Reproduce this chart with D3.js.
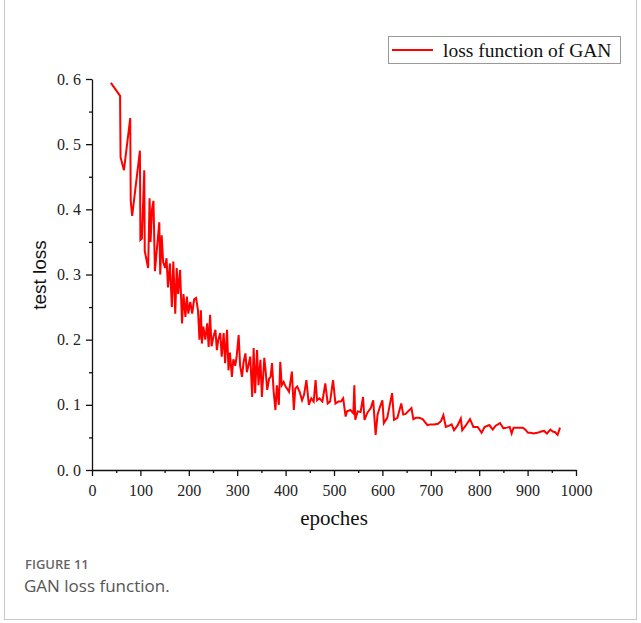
<!DOCTYPE html>
<html>
<head>
<meta charset="utf-8">
<script src="https://cdn.jsdelivr.net/npm/d3@7"></script>
<style>
  body { margin: 0; background: #fff; }
  svg { display: block; }
</style>
</head>
<body>
<svg id="chart"></svg>
<script>
// data
var epochs = [39, 58, 59, 66, 79, 80, 83, 99, 100, 103, 108, 109, 116, 119, 121, 124, 127, 130, 139, 141,
    144, 147, 151, 154, 157, 161, 165, 168, 172, 175, 178, 182, 186, 189, 193, 196, 199, 203, 207, 211,
    215, 219, 222, 225, 227, 230, 234, 238, 241, 244, 247, 251, 255, 258, 261, 265, 268, 272, 275, 279,
    282, 285, 289, 292, 296, 299, 303, 306, 310, 313, 317, 320, 323, 327, 331, 334, 337, 341, 344, 348,
    351, 356, 359, 362, 366, 369, 372, 375, 379, 382, 386, 389, 392, 396, 400, 403, 407, 413, 417, 420,
    424, 429, 434, 438, 443, 448, 453, 458, 462, 465, 470, 476, 482, 487, 492, 498, 503, 509, 514, 519,
    524, 527, 534, 540, 542, 544, 549, 555, 560, 563, 569, 576, 581, 586, 590, 595, 600, 603, 610, 620,
    624, 631, 639, 643, 648, 653, 660, 664, 669, 676, 683, 693, 700, 707, 715, 721, 726, 731, 738, 743,
    748, 755, 762, 765, 772, 781, 788, 797, 805, 811, 821, 828, 834, 843, 850, 857, 863, 867, 871, 882,
    890, 895, 901, 906, 912, 920, 928, 934, 940, 947, 952, 957, 962, 967];

var testLoss = [0.594, 0.574, 0.48, 0.46, 0.54, 0.413, 0.39, 0.49, 0.353, 0.355, 0.46, 0.336, 0.31, 0.417, 0.35, 0.40, 0.413, 0.305, 0.38, 0.30,
    0.36, 0.319, 0.31, 0.325, 0.28, 0.317, 0.25, 0.32, 0.24, 0.31, 0.27, 0.307, 0.225, 0.27, 0.235, 0.266, 0.24, 0.258, 0.24, 0.262,
    0.264, 0.245, 0.20, 0.245, 0.194, 0.22, 0.20, 0.225, 0.189, 0.238, 0.19, 0.205, 0.215, 0.184, 0.20, 0.21, 0.174, 0.21, 0.164, 0.215,
    0.153, 0.18, 0.143, 0.17, 0.16, 0.175, 0.207, 0.16, 0.143, 0.165, 0.179, 0.15, 0.16, 0.174, 0.112, 0.187, 0.118, 0.184, 0.13, 0.169,
    0.112, 0.172, 0.15, 0.123, 0.14, 0.143, 0.164, 0.123, 0.092, 0.13, 0.10, 0.166, 0.13, 0.135, 0.128, 0.125, 0.12, 0.151, 0.092, 0.125,
    0.128, 0.12, 0.107, 0.115, 0.138, 0.10, 0.11, 0.105, 0.138, 0.107, 0.11, 0.105, 0.133, 0.102, 0.105, 0.138, 0.102, 0.105, 0.105, 0.11,
    0.082, 0.09, 0.092, 0.087, 0.13, 0.077, 0.09, 0.089, 0.112, 0.077, 0.088, 0.095, 0.107, 0.054, 0.085, 0.097, 0.107, 0.072, 0.08, 0.118,
    0.077, 0.08, 0.102, 0.085, 0.086, 0.09, 0.095, 0.078, 0.08, 0.08, 0.078, 0.069, 0.07, 0.07, 0.071, 0.075, 0.084, 0.066, 0.068, 0.07,
    0.061, 0.068, 0.079, 0.061, 0.068, 0.078, 0.066, 0.066, 0.057, 0.066, 0.069, 0.062, 0.068, 0.072, 0.064, 0.065, 0.066, 0.056, 0.065, 0.065,
    0.065, 0.062, 0.057, 0.057, 0.056, 0.057, 0.059, 0.06, 0.056, 0.062, 0.059, 0.058, 0.054, 0.065];

var xTicks = [0, 100, 200, 300, 400, 500, 600, 700, 800, 900, 1000];
var yTicks = [0, 0.1, 0.2, 0.3, 0.4, 0.5, 0.6];
var legendLabel = "loss function of GAN";

var W = 641, H = 623;
var margin = { top: 79, right: 65, bottom: 153, left: 92 },
    width = 576 - margin.left,
    height = 470 - margin.top;

var svg = d3.select("#chart")
    .attr("width", W)
    .attr("height", H);

// card border
svg.append("rect")
    .attr("x", 4.5).attr("y", -2)
    .attr("width", 632).attr("height", 621.5)
    .attr("fill", "none")
    .attr("stroke", "#c8c8c8")
    .attr("stroke-width", 1);

var g = svg.append("g")
    .attr("transform", "translate(" + margin.left + "," + margin.top + ")");

var x = d3.scaleLinear().domain([0, 1000]).range([0, width]);
var y = d3.scaleLinear().domain([0, 0.6]).range([height, 0]);

var serif = "'Liberation Serif', 'Times New Roman', serif";

// minor ticks
g.append("g")
    .attr("transform", "translate(0," + height + ")")
    .call(d3.axisBottom(x).tickValues(d3.range(50, 1000, 100)).tickSize(3).tickFormat(""))
    .call(s => s.select(".domain").remove());
g.append("g")
    .call(d3.axisLeft(y).tickValues(d3.range(0.05, 0.6, 0.1)).tickSize(3).tickFormat(""))
    .call(s => s.select(".domain").remove());

// main axes
var xAxis = g.append("g")
    .attr("transform", "translate(0," + height + ")")
    .call(d3.axisBottom(x).tickValues(xTicks).tickSize(6).tickSizeOuter(0).tickPadding(9).tickFormat(d3.format("d")));

var yAxis = g.append("g")
    .call(d3.axisLeft(y).tickValues(yTicks).tickSize(6).tickSizeOuter(0).tickPadding(5)
        .tickFormat(d => d3.format(".1f")(d).replace(".", ". ")));

[xAxis, yAxis].forEach(a => {
    a.selectAll("path, line").attr("stroke", "#111").attr("stroke-width", 1.3);
    a.selectAll("text").attr("fill", "#222").style("font-family", serif).style("font-size", "16px");
});
g.selectAll(".tick line").attr("stroke", "#111").attr("stroke-width", 1.3);

// line
var line = d3.line()
    .x((d, i) => x(epochs[i]))
    .y(d => y(d));

g.append("path")
    .datum(testLoss)
    .attr("fill", "none")
    .attr("stroke", "#ff0000")
    .attr("stroke-width", 2)
    .attr("stroke-linejoin", "miter")
    .attr("d", line);

// axis titles
svg.append("text")
    .text("epoches")
    .attr("x", 334)
    .attr("y", 525)
    .attr("text-anchor", "middle")
    .style("font-family", serif)
    .style("font-size", "21px")
    .attr("fill", "#111");

svg.append("text")
    .text("test loss")
    .attr("transform", "translate(46,275) rotate(-90)")
    .attr("text-anchor", "middle")
    .style("font-family", "'Liberation Sans Narrow', 'Liberation Sans', sans-serif")
    .style("font-size", "19px")
    .attr("fill", "#111");

// legend
var legend = svg.append("g");
legend.append("rect")
    .attr("x", 388.5).attr("y", 36.5)
    .attr("width", 232).attr("height", 27)
    .attr("fill", "#fff")
    .attr("stroke", "#999");
legend.append("line")
    .attr("x1", 392).attr("x2", 433)
    .attr("y1", 50).attr("y2", 50)
    .attr("stroke", "#ff0000")
    .attr("stroke-width", 2);
legend.append("text")
    .text(legendLabel)
    .attr("x", 443).attr("y", 57)
    .style("font-family", serif)
    .style("font-size", "19.5px")
    .attr("fill", "#111");

// caption
svg.append("text")
    .text("FIGURE 11")
    .attr("x", 25).attr("y", 569)
    .style("font-family", "'Open Sans', sans-serif")
    .style("font-size", "13px")
    .style("font-weight", 600)
    .attr("fill", "#666");
svg.append("text")
    .text("GAN loss function.")
    .attr("x", 24).attr("y", 592)
    .style("font-family", "'Open Sans', sans-serif")
    .style("font-size", "17px")
    .attr("fill", "#555");
</script>
</body>
</html>
